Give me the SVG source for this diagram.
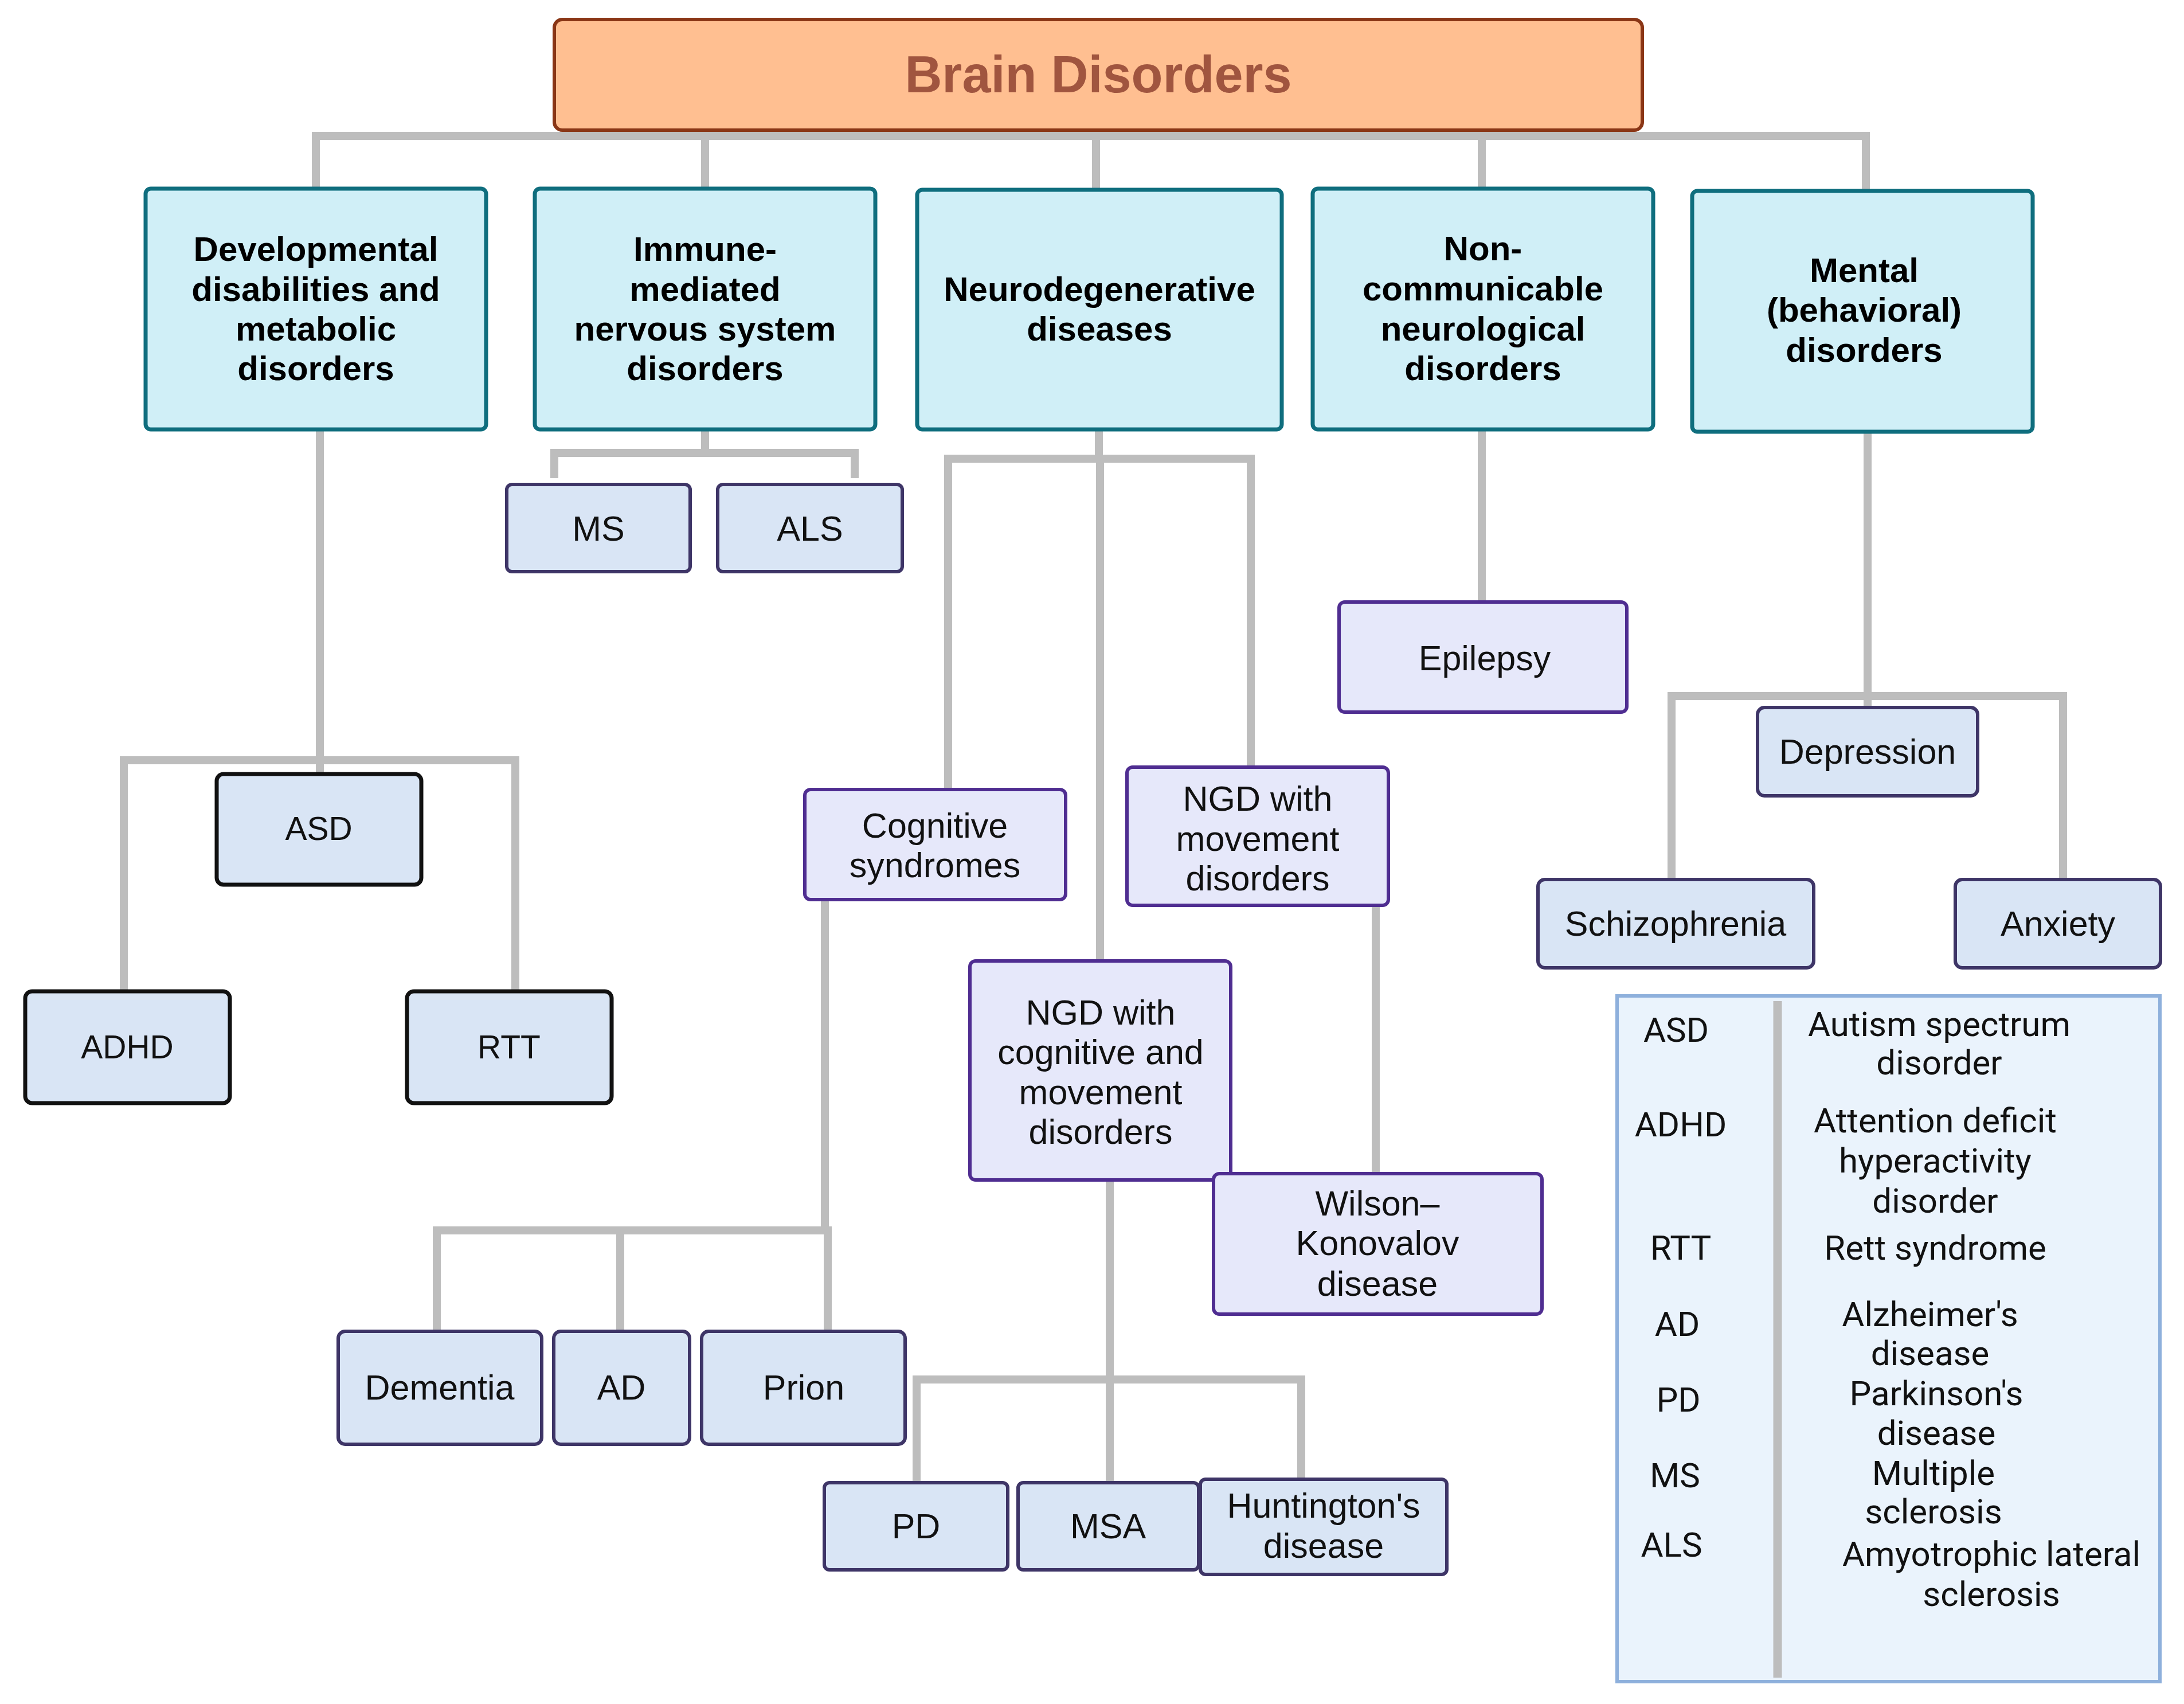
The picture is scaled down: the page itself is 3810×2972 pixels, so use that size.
<svg xmlns="http://www.w3.org/2000/svg" width="3810" height="2972" viewBox="0 0 3810 2972">
<style>
.conn path{fill:none;stroke:#BDBDBD;stroke-width:14;stroke-linejoin:miter;stroke-linecap:butt}
.title rect{fill:#FFBF91;stroke:#8A3616;stroke-width:6}
.title text{font-family:"Liberation Sans",Arial,sans-serif;font-weight:bold;font-size:90px;fill:#A0553F;text-anchor:middle}
.l1 rect{fill:#D0EFF7;stroke:#0F6E7E;stroke-width:7}
.l1 text{font-family:"Liberation Sans",Arial,sans-serif;font-weight:bold;font-size:60px;fill:#000;text-anchor:middle}
.blk rect{fill:#D9E5F5;stroke:#111;stroke-width:7}
.blu rect{fill:#D9E5F5;stroke:#3E3567;stroke-width:6}
.lav rect{fill:#E6E8FA;stroke:#4F2D91;stroke-width:6}
.n text{font-family:"Liberation Sans",Arial,sans-serif;font-size:61px;fill:#111;text-anchor:middle}
.blk text{font-size:57px}
.legend rect{fill:#EAF3FC;stroke:#8EB0DC;stroke-width:6}
.legend text{font-family:Roboto,"Liberation Sans",sans-serif;font-size:60px;fill:#111;text-anchor:middle}
</style>
<rect width="3810" height="2972" fill="#fff"/>
<g id="connectors" class="conn">
<path d="M551,330 V237 H3255 V333"/>
<path d="M1230,237 V330"/>
<path d="M1912,237 V331"/>
<path d="M2585,237 V330"/>
<path d="M558,749 V1350"/>
<path d="M216,1728 V1326 H899 V1728"/>
<path d="M1230,749 V790"/>
<path d="M967,834 V790 H1491 V834"/>
<path d="M1917,749 V800"/>
<path d="M1654,1377 V800 H2182 V1338"/>
<path d="M1919,800 V1676"/>
<path d="M1439,1569 V2146"/>
<path d="M762,2322 V2146 H1444 V2322"/>
<path d="M1082,2146 V2322"/>
<path d="M1936,2058 V2406"/>
<path d="M1599,2586 V2406 H2270 V2580"/>
<path d="M1936,2406 V2586"/>
<path d="M2400,1579 V2048"/>
<path d="M2585,749 V1050"/>
<path d="M3258,753 V1234"/>
<path d="M2916,1534 V1214 H3599 V1534"/>
</g>
<g id="title" class="title">
<rect x="967" y="34" width="1898" height="193" rx="14"/>
<text x="1916" y="161">Brain Disorders</text>
</g>
<g id="developmental" class="l1">
<rect x="254" y="329" width="594" height="420" rx="9"/>
<text x="551" y="455">Developmental</text>
<text x="551" y="525">disabilities and</text>
<text x="551" y="594">metabolic</text>
<text x="551" y="663">disorders</text>
</g>
<g id="immune" class="l1">
<rect x="933" y="329" width="594" height="420" rx="9"/>
<text x="1230" y="455">Immune-</text>
<text x="1230" y="525">mediated</text>
<text x="1230" y="594">nervous system</text>
<text x="1230" y="663">disorders</text>
</g>
<g id="neurodegenerative" class="l1">
<rect x="1600" y="331" width="636" height="418" rx="9"/>
<text x="1918" y="525">Neurodegenerative</text>
<text x="1918" y="594">diseases</text>
</g>
<g id="noncommunicable" class="l1">
<rect x="2290" y="329" width="594" height="420" rx="9"/>
<text x="2587" y="454">Non-</text>
<text x="2587" y="524">communicable</text>
<text x="2587" y="594">neurological</text>
<text x="2587" y="663">disorders</text>
</g>
<g id="mental" class="l1">
<rect x="2952" y="333" width="594" height="420" rx="9"/>
<text x="3252" y="492">Mental</text>
<text x="3252" y="561">(behavioral)</text>
<text x="3252" y="631">disorders</text>
</g>
<g id="asd" class="n blk">
<rect x="378" y="1350" width="357" height="193" rx="12"/>
<text x="556" y="1465">ASD</text>
</g>
<g id="adhd" class="n blk">
<rect x="44" y="1729" width="357" height="195" rx="12"/>
<text x="222" y="1846">ADHD</text>
</g>
<g id="rtt" class="n blk">
<rect x="710" y="1729" width="357" height="195" rx="12"/>
<text x="888" y="1846">RTT</text>
</g>
<g id="ms" class="n blu">
<rect x="884" y="845" width="320" height="152" rx="9"/>
<text x="1044" y="943">MS</text>
</g>
<g id="als" class="n blu">
<rect x="1252" y="845" width="322" height="152" rx="9"/>
<text x="1413" y="943">ALS</text>
</g>
<g id="cognitive" class="n lav">
<rect x="1404" y="1377" width="455" height="192" rx="10"/>
<text x="1631" y="1461">Cognitive</text>
<text x="1631" y="1530">syndromes</text>
</g>
<g id="ngd-movement" class="n lav">
<rect x="1966" y="1338" width="456" height="241" rx="10"/>
<text x="2194" y="1414">NGD with</text>
<text x="2194" y="1484">movement</text>
<text x="2194" y="1553">disorders</text>
</g>
<g id="ngd-cognitive-movement" class="n lav">
<rect x="1692" y="1676" width="455" height="382" rx="10"/>
<text x="1920" y="1787">NGD with</text>
<text x="1920" y="1856">cognitive and</text>
<text x="1920" y="1926">movement</text>
<text x="1920" y="1995">disorders</text>
</g>
<g id="wilson" class="n lav">
<rect x="2117" y="2047" width="573" height="245" rx="10"/>
<text x="2403" y="2120">Wilson–</text>
<text x="2403" y="2189">Konovalov</text>
<text x="2403" y="2260">disease</text>
</g>
<g id="epilepsy" class="n lav">
<rect x="2336" y="1050" width="502" height="192" rx="10"/>
<text x="2590" y="1169">Epilepsy</text>
</g>
<g id="dementia" class="n blu">
<rect x="590" y="2322" width="355" height="197" rx="12"/>
<text x="767" y="2441">Dementia</text>
</g>
<g id="ad" class="n blu">
<rect x="966" y="2322" width="237" height="197" rx="12"/>
<text x="1084" y="2441">AD</text>
</g>
<g id="prion" class="n blu">
<rect x="1224" y="2322" width="355" height="197" rx="12"/>
<text x="1402" y="2441">Prion</text>
</g>
<g id="pd" class="n blu">
<rect x="1438" y="2586" width="320" height="152" rx="9"/>
<text x="1598" y="2683">PD</text>
</g>
<g id="msa" class="n blu">
<rect x="1776" y="2586" width="315" height="152" rx="9"/>
<text x="1933" y="2683">MSA</text>
</g>
<g id="huntington" class="n blu">
<rect x="2094" y="2580" width="430" height="166" rx="9"/>
<text x="2309" y="2647">Huntington's</text>
<text x="2309" y="2717">disease</text>
</g>
<g id="depression" class="n blu">
<rect x="3066" y="1234" width="384" height="154" rx="12"/>
<text x="3258" y="1332">Depression</text>
</g>
<g id="schizophrenia" class="n blu">
<rect x="2683" y="1534" width="481" height="154" rx="12"/>
<text x="2923" y="1632">Schizophrenia</text>
</g>
<g id="anxiety" class="n blu">
<rect x="3411" y="1534" width="358" height="154" rx="12"/>
<text x="3590" y="1632">Anxiety</text>
</g>
<g id="legend" class="legend">
<rect x="2821" y="1737" width="947" height="1196"/>
<path d="M3101,1746 V2926" fill="none" stroke="#BDBDBD" stroke-width="15"/>
<text x="2924" y="1817">ASD</text>
<text x="2932" y="1982">ADHD</text>
<text x="2932" y="2197">RTT</text>
<text x="2926" y="2330">AD</text>
<text x="2928" y="2462">PD</text>
<text x="2922" y="2594">MS</text>
<text x="2916" y="2715">ALS</text>
<text x="3383" y="1807">Autism spectrum</text>
<text x="3383" y="1874">disorder</text>
<text x="3376" y="1975">Attention deficit</text>
<text x="3376" y="2045">hyperactivity</text>
<text x="3376" y="2115">disorder</text>
<text x="3376" y="2197">Rett syndrome</text>
<text x="3367" y="2313">Alzheimer's</text>
<text x="3367" y="2381">disease</text>
<text x="3378" y="2451">Parkinson's</text>
<text x="3378" y="2520">disease</text>
<text x="3373" y="2590">Multiple</text>
<text x="3373" y="2657">sclerosis</text>
<text x="3474" y="2731">Amyotrophic lateral</text>
<text x="3474" y="2801">sclerosis</text>
</g>
</svg>
